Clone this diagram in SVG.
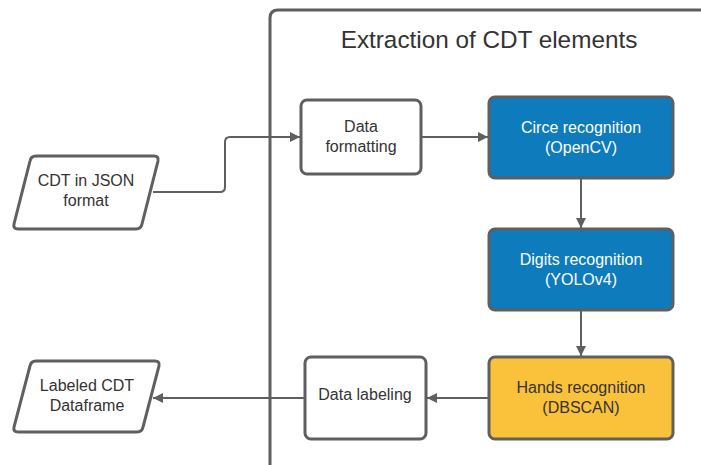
<svg xmlns="http://www.w3.org/2000/svg" width="701" height="465" viewBox="0 0 701 465">
<defs>
<marker id="ah" viewBox="0 0 10 10" refX="10" refY="5" markerWidth="10" markerHeight="10" markerUnits="userSpaceOnUse" orient="auto">
<path d="M0,0 L10,5 L0,10 z" fill="#5f5f5f"/>
</marker>
<style>
.box{stroke:#5f5f5f;stroke-width:3;}
.t{font-family:"Liberation Sans",Arial,sans-serif;font-size:16px;text-anchor:middle;fill:#333333;}
.w{fill:#ffffff;}
.c{fill:none;stroke:#5f5f5f;stroke-width:2;}
</style>
</defs>
<rect width="701" height="465" fill="#ffffff"/>
<g id="container">
<path d="M270,470 L270,18 Q270,10 278,10 L710,10" fill="none" stroke="#5f5f5f" stroke-width="3"/>
<text x="489" y="48" style="font-family:'Liberation Sans',Arial,sans-serif;font-size:24.3px;text-anchor:middle;fill:#333333">Extraction of CDT elements</text>
</g>
<g id="connectors">
<path class="c" d="M153,192 L220,192 Q225,192 225,187 L225,142 Q225,137 230,137 L300,137" marker-end="url(#ah)"/>
<path class="c" d="M421,137 L488,137" marker-end="url(#ah)"/>
<path class="c" d="M581,178 L581,228" marker-end="url(#ah)"/>
<path class="c" d="M581,310 L581,356" marker-end="url(#ah)"/>
<path class="c" d="M489,398 L427,398" marker-end="url(#ah)"/>
<path class="c" d="M305,398 L153,398" marker-end="url(#ah)"/>
</g>
<g id="cdt-json">
<path class="box" fill="#ffffff" d="M36,156 L154,156 Q159,156 158,161 L142,224 Q141,229 136,229 L18,229 Q13,229 14,224 L30,161 Q31,156 36,156 Z"/>
<text class="t" x="86" y="186">CDT in JSON</text>
<text class="t" x="86" y="206">format</text>
</g>
<g id="data-formatting">
<rect class="box" x="301" y="100" width="120" height="74" rx="6" fill="#ffffff"/>
<text class="t" x="361" y="132">Data</text>
<text class="t" x="361" y="152">formatting</text>
</g>
<g id="circle-recognition">
<rect class="box" x="489" y="97" width="184" height="81" rx="6" fill="#0e7bbd"/>
<text class="t w" x="581" y="133">Circe recognition</text>
<text class="t w" x="581" y="153">(OpenCV)</text>
</g>
<g id="digits-recognition">
<rect class="box" x="489" y="229" width="184" height="81" rx="6" fill="#0e7bbd"/>
<text class="t w" x="581" y="265">Digits recognition</text>
<text class="t w" x="581" y="285">(YOLOv4)</text>
</g>
<g id="hands-recognition">
<rect class="box" x="489" y="357" width="184" height="82" rx="6" fill="#fac23a"/>
<text class="t" x="581" y="393">Hands recognition</text>
<text class="t" x="581" y="413">(DBSCAN)</text>
</g>
<g id="data-labeling">
<rect class="box" x="305" y="357" width="121" height="82" rx="6" fill="#ffffff"/>
<text class="t" x="365" y="400">Data labeling</text>
</g>
<g id="labeled-cdt">
<path class="box" fill="#ffffff" d="M36,361 L155,361 Q160,361 159,366 L143,427 Q142,432 137,432 L18,432 Q13,432 14,427 L30,366 Q31,361 36,361 Z"/>
<text class="t" x="87" y="391">Labeled CDT</text>
<text class="t" x="87" y="411">Dataframe</text>
</g>
</svg>
